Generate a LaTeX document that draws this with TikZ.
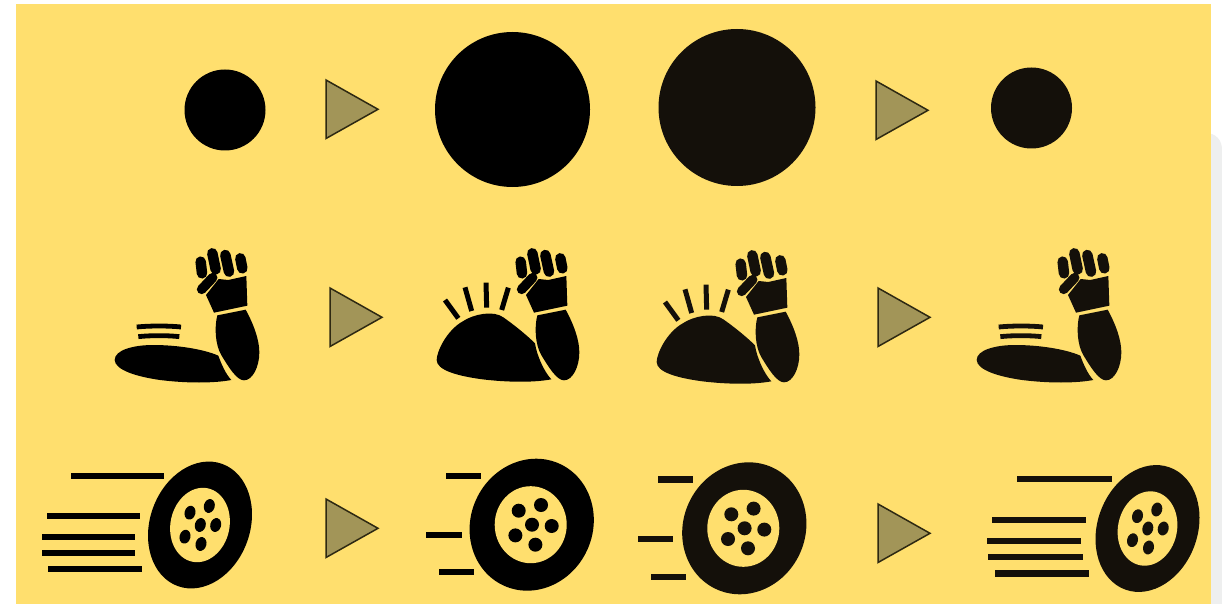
\documentclass[tikz,border=0pt]{standalone}
\definecolor{bgy}{HTML}{FFDF6E}
\definecolor{ink}{HTML}{000000}
\definecolor{inkb}{HTML}{14100A}
\definecolor{tri}{HTML}{A29558}
\definecolor{trid}{HTML}{2E2912}
\definecolor{pale}{HTML}{EEEFEF}
\tikzset{
  tribox/.style={fill=tri,draw=trid,line width=1.5pt,line join=miter},
  fing/.style={line cap=round,line width=10.5pt},
  thumbline/.style={line cap=round,line width=9.6pt},
  ray/.style={line width=5pt},
  whoosh/.style={line width=4.8pt},
  speedline/.style={line width=6.3pt},
  speedthin/.style={line width=5.2pt},
  pics/hand/.style={code={
    \begin{scope}[shift={(100,235)},scale=0.33333]
    \draw[fing,#1] (302,80)--(306,115);
    \draw[fing,#1] (337,55)--(347,103);
    \draw[fing,#1] (376,60)--(387,110);
    \draw[fing,#1] (421,70)--(427,100);
    \draw[thumbline,#1] (305,163)--(338,128);
    \fill[#1] (318,180)--(356,132)--(385,135)--(439,123)--(442,212)--(342,233)--cycle;
    \fill[#1] (352,241)--(437,224) .. controls (462,270) and (478,315) .. (478,352) .. controls (478,395) and (458,436) .. (432,436) .. controls (410,436) and (385,395) .. (365,362) .. controls (345,330) and (343,275) .. (352,241)--cycle;
    \end{scope}
  }},
  pics/forearm/.style={code={
    \pic {hand=#1};
    \begin{scope}[shift={(100,235)},scale=0.33333]
    \fill[#1] (355,362) .. controls (365,390) and (378,418) .. (394,435) .. controls (340,445) and (260,445) .. (180,435) .. controls (110,425) and (45,405) .. (44,375) .. controls (44,345) and (100,330) .. (160,330) .. controls (230,330) and (310,342) .. (355,362)--cycle;
    \draw[whoosh,#1] (110,276) .. controls (150,272) and (205,272) .. (243,276);
    \draw[whoosh,#1] (115,305) .. controls (150,301) and (205,301) .. (238,305);
    \end{scope}
  }},
  pics/bicep/.style={code={
    \begin{scope}[shift={(320,0)}]\pic {hand=#1};\end{scope}
    \begin{scope}[shift={(420,235)},scale=0.33333]
    \fill[#1] (345,325) .. controls (350,360) and (372,410) .. (394,433) .. controls (330,445) and (240,440) .. (180,432) .. controls (110,422) and (50,405) .. (50,375) .. controls (50,350) and (80,285) .. (130,258) .. controls (160,238) and (220,225) .. (250,247) .. controls (280,268) and (320,300) .. (345,325)--cycle;
    \draw[ray,#1] (75,195)--(115,250);
    \draw[ray,#1] (135,157)--(155,228);
    \draw[ray,#1] (198,143)--(200,218);
    \draw[ray,#1] (265,158)--(245,225);
    \end{scope}
  }},
  pics/slimwheel/.style n args={3}{code={
    \begin{scope}[shift={(#1,#2)}]
      \fill[#3,rotate=-20] (0,0) ellipse [x radius=50,y radius=65];
      \fill[bgy,rotate=-12] (0,0) ellipse [x radius=29.5,y radius=37.5];
      \foreach \dx/\dy in {-10/-12.3,9.3/-19,0.3/0,15.7/0,-15/11.7,1/19}
        \fill[#3,shift={(\dx,\dy)},rotate=-15] (0,0) ellipse [x radius=5.4,y radius=7];
    \end{scope}
  }},
  pics/roundwheel/.style n args={3}{code={
    \begin{scope}[shift={(#1,#2)}]
      \fill[#3,rotate=-25] (0,0) ellipse [x radius=61,y radius=67];
      \fill[bgy] (-1,0) ellipse [x radius=36,y radius=38.5];
      \foreach \dx/\dy in {-13/-14,9.3/-19.7,0.3/0,20/1.3,-16.3/10.7,3.7/20}
        \fill[#3] (\dx,\dy) circle [radius=7];
    \end{scope}
  }},
}
\begin{document}
\begin{tikzpicture}[x=1pt,y=-1pt]
\useasboundingbox (0,0) rectangle (1222,604);
\fill[white] (0,0) rectangle (1222,604);
\fill[pale] (1205,133) .. controls (1216,133) and (1222,140) .. (1222,150) -- (1222,604) -- (1205,604) -- cycle;
\fill[bgy] (16,4) rectangle (1211,604);
% row 1
\node[circle,fill=ink,inner sep=0,minimum size=81pt] (c1) at (225,110) {};
\node[circle,fill=ink,inner sep=0,minimum size=155pt] (c2) at (512.5,109.5) {};
\node[circle,fill=inkb,inner sep=0,minimum size=157pt] (c3) at (737,107.5) {};
\node[circle,fill=inkb,inner sep=0,minimum size=81pt] (c4) at (1031.5,108) {};
% triangles
\foreach \x/\y in {326/80,330/288,326/499,876/81,878/288,878/504}
  \draw[tribox] (\x,\y)--(\x,\y+58.5)--(\x+52,\y+29.3)--cycle;
% row 2
\pic {forearm=ink};
\pic {bicep=ink};
\begin{scope}[shift={(220,2)}]\pic {bicep=inkb};\end{scope}
\begin{scope}[shift={(862,0)}]\pic {forearm=inkb};\end{scope}
% row 3
\pic {slimwheel={200}{525}{ink}};
\pic {roundwheel={531.7}{524.7}{ink}};
\pic {roundwheel={744.3}{528.3}{inkb}};
\pic {slimwheel={1147.5}{528.5}{inkb}};
\foreach \a/\b/\y in {71/164/476,47/140/516,42/135/537,48/142/569}
  \draw[speedline,ink] (\a,\y)--(\b,\y);
\draw[speedthin,ink] (42,553)--(135,553);
\foreach \a/\b/\y in {446/481/476,426/462/535,439/474/572}
  \draw[speedline,ink] (\a,\y)--(\b,\y);
\foreach \a/\b/\y in {658/693/479.5,638/673/539,651/686/577}
  \draw[speedline,inkb] (\a,\y)--(\b,\y);
\foreach \a/\b/\y in {1017/1112/479,992/1086/520,987/1081/541,995/1089/573.5}
  \draw[speedline,inkb] (\a,\y)--(\b,\y);
\draw[speedthin,inkb] (988,557)--(1083,557);
\end{tikzpicture}
\end{document}
